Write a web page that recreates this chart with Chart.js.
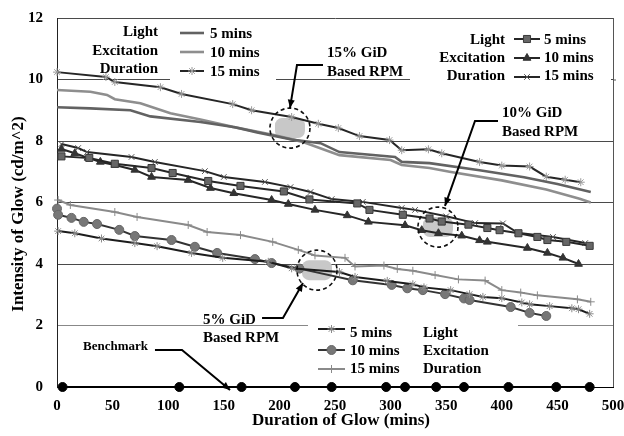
<!DOCTYPE html>
<html>
<head>
<meta charset="utf-8">
<script src="https://cdn.jsdelivr.net/npm/chart.js@4.4.1/dist/chart.umd.min.js"></script>
<style>
html,body{margin:0;padding:0;background:#fff;}
canvas{display:block;}
</style>
</head>
<body>
<canvas id="c" width="624" height="436"></canvas>
<script>
// ---------- DATA ----------
const xTickValues = [0, 50, 100, 150, 200, 250, 300, 350, 400, 450, 500];
const yTickValues = [0, 2, 4, 6, 8, 10, 12];

// 15% GiD based RPM (top group)
const gid15_5min = [[0,9.1],[30,9.06],[66,9.0],[84,8.8],[129,8.62],[160,8.45],[180,8.28],[211,8.05],[237,7.93],[254,7.64],[304,7.48],[310,7.32],[335,7.28],[380,7.05],[420,6.82],[450,6.6],[480,6.34]];
const gid15_10min = [[0,9.66],[30,9.6],[45,9.5],[52,9.36],[75,9.23],[102,8.9],[129,8.7],[158,8.46],[194,8.2],[220,7.98],[254,7.54],[300,7.38],[310,7.22],[335,7.12],[353,7.0],[400,6.72],[440,6.42],[470,6.12],[480,6.0]];
const gid15_15min = [[0,10.24],[44,10.08],[52,9.92],[93,9.75],[112,9.53],[158,9.2],[175,9.0],[211,8.78],[235,8.56],[253,8.42],[272,8.16],[299,8.03],[310,7.7],[334,7.73],[346,7.6],[380,7.32],[400,7.2],[425,7.17],[440,6.84],[457,6.74],[471,6.66]];

// 10% GiD based RPM (middle group)
const gid10_5min = [[4,7.5],[29,7.45],[52,7.26],[85,7.12],[104,6.96],[136,6.7],[165,6.54],[204,6.36],[227,6.1],[270,5.97],[281,5.76],[311,5.6],[335,5.48],[346,5.38],[370,5.28],[387,5.17],[398,5.1],[415,5.0],[432,4.88],[441,4.78],[458,4.72],[479,4.59]];
const gid10_10min = [[4,7.74],[16,7.6],[28,7.45],[39,7.32],[52,7.22],[70,7.06],[85,6.83],[118,6.73],[138,6.47],[159,6.3],[193,6.08],[208,5.95],[232,5.76],[261,5.58],[280,5.37],[313,5.26],[328,5.1],[343,5.0],[364,4.92],[380,4.77],[387,4.72],[423,4.52],[441,4.36],[455,4.2],[469,4.0]];
const gid10_15min = [[4,7.9],[19,7.77],[27,7.64],[67,7.48],[88,7.32],[133,7.02],[150,6.83],[187,6.67],[210,6.5],[228,6.34],[247,6.11],[275,6.02],[310,5.82],[322,5.76],[350,5.55],[376,5.33],[401,5.32],[414,5.02],[446,4.88],[475,4.68]];

// 5% GiD based RPM (bottom group)
const gid5_5min = [[1,5.07],[16,5.0],[40,4.83],[70,4.68],[90,4.58],[121,4.36],[149,4.2],[190,4.07],[211,3.86],[254,3.74],[268,3.58],[297,3.45],[320,3.34],[330,3.24],[354,3.15],[371,3.02],[383,2.93],[400,2.89],[418,2.75],[425,2.69],[443,2.63],[463,2.56],[469,2.53],[479,2.38]];
const gid5_10min = [[0,5.8],[1,5.6],[13,5.5],[24,5.37],[36,5.3],[56,5.11],[70,4.91],[103,4.78],[124,4.56],[144,4.36],[178,4.16],[193,4.03],[218,3.85],[266,3.47],[301,3.32],[315,3.21],[329,3.15],[349,3.02],[366,2.88],[371,2.83],[408,2.6],[425,2.41],[440,2.31]];
const gid5_15min = [[1,6.08],[12,5.92],[52,5.69],[72,5.53],[118,5.27],[135,5.04],[165,4.94],[194,4.72],[217,4.46],[232,4.28],[259,4.2],[268,3.92],[294,3.95],[306,3.84],[320,3.78],[340,3.64],[361,3.5],[385,3.46],[400,3.15],[417,3.07],[432,2.98],[468,2.85],[480,2.77]];

// Benchmark
const benchmark = [[5,0],[110,0],[166,0],[214,0],[247,0],[296,0],[313,0],[341,0],[366,0],[406,0],[449,0],[479,0]];

// Annotation anchors (data units)
const circleCenters = [[209.5,8.42],[342.6,5.2],[233.8,3.8]];
const arrows = [
  [[239.2,10.47],[215.8,10.47],[209.5,9.07]],
  [[396.6,8.65],[375.9,8.65],[348.9,5.89]],
  [[184.4,2.24],[203.2,2.24],[221.2,3.38]],
  [[88.1,1.2],[112.4,1.2],[155.6,-0.1]]
];

// ---------- CHART ----------
const FONT = '"Liberation Serif","Times New Roman",serif';
const pts = a => a.map(p => ({x:p[0], y:p[1]}));

function ds(label, arr, o){
  return Object.assign({
    label, data: pts(arr), borderWidth:2, tension:0, fill:false, clip:false,
    pointRadius:0, pointHoverRadius:0, pointBorderWidth:1
  }, o);
}

const S = {
  g15_5:  {borderColor:'#626262', borderWidth:2.6},
  g15_10: {borderColor:'#8e8e8e', borderWidth:2.6},
  g15_15: {borderColor:'#262626', borderWidth:2, pointStyle:'star', pointRadius:4, pointBorderColor:'#9a9a9a', pointBackgroundColor:'#9a9a9a'},
  g10_5:  {borderColor:'#262626', borderWidth:2, pointStyle:'rect', pointRadius:5, pointBackgroundColor:'#666', pointBorderColor:'#3a3a3a'},
  g10_10: {borderColor:'#262626', borderWidth:2, pointStyle:'triangle', pointRadius:4.5, pointBackgroundColor:'#333', pointBorderColor:'#333'},
  g10_15: {borderColor:'#262626', borderWidth:2, pointStyle:'crossRot', pointRadius:4, pointBorderColor:'#555', pointBackgroundColor:'#555'},
  g5_5:   {borderColor:'#1c1c1c', borderWidth:2, pointStyle:'star', pointRadius:4, pointBorderColor:'#8a8a8a', pointBackgroundColor:'#8a8a8a'},
  g5_10:  {borderColor:'#333', borderWidth:2, pointStyle:'circle', pointRadius:4.5, pointBackgroundColor:'#777', pointBorderColor:'#666'},
  g5_15:  {borderColor:'#8a8a8a', borderWidth:2, pointStyle:'cross', pointRadius:4, pointBorderColor:'#8a8a8a', pointBackgroundColor:'#8a8a8a'},
  bench:  {borderColor:'#000', borderWidth:2, pointStyle:'circle', pointRadius:4.5, pointBackgroundColor:'#000', pointBorderColor:'#000'}
};

function drawArrowHead(ctx, from, to, size){
  const ang = Math.atan2(to[1]-from[1], to[0]-from[0]);
  ctx.beginPath();
  ctx.moveTo(to[0], to[1]);
  ctx.lineTo(to[0]-size*Math.cos(ang-0.4), to[1]-size*Math.sin(ang-0.4));
  ctx.lineTo(to[0]-size*Math.cos(ang+0.4), to[1]-size*Math.sin(ang+0.4));
  ctx.closePath();
  ctx.fill();
}

function marker(ctx, style, x, y, r, fill, stroke){
  ctx.save();
  ctx.fillStyle = fill; ctx.strokeStyle = stroke; ctx.lineWidth = 1;
  Chart.helpers.drawPoint(ctx, {pointStyle:style, radius:r, rotation:0, borderWidth:1}, x, y);
  ctx.restore();
}

function legendLine(ctx, x1, x2, y, st){
  ctx.save();
  ctx.strokeStyle = st.borderColor; ctx.lineWidth = st.borderWidth;
  ctx.beginPath(); ctx.moveTo(x1,y); ctx.lineTo(x2,y); ctx.stroke();
  ctx.restore();
  if (st.pointStyle && st.pointRadius) marker(ctx, st.pointStyle, (x1+x2)/2, y, st.pointRadius, st.pointBackgroundColor, st.pointBorderColor);
}

function text(ctx, s, x, y, align, size){
  ctx.font = 'bold ' + (size||15) + 'px ' + FONT;
  ctx.fillStyle = '#000';
  ctx.textAlign = align || 'left';
  ctx.textBaseline = 'middle';
  ctx.fillText(s, x, y);
}

const deco = {
  id:'deco',
  beforeDatasetsDraw(chart){
    const {ctx, scales:{x, y}} = chart;
    ctx.save();
    ctx.fillStyle = '#fff';
    const y10 = y.getPixelForValue(10), y2 = y.getPixelForValue(2);
    ctx.fillRect(170, y10-3, 106, 6);
    ctx.fillRect(410, y10-3, 201, 6);
    ctx.fillRect(308, y2-3, 210, 6);
    ctx.fillStyle = '#c8c8c8';
    circleCenters.forEach(c => {
      const cx = x.getPixelForValue(c[0]), cy = y.getPixelForValue(c[1]);
      ctx.beginPath();
      ctx.roundRect(cx-15, cy-10, 30, 20, 7);
      ctx.fill();
    });
    ctx.restore();
  },
  afterDatasetsDraw(chart){
    const {ctx, chartArea:ca, scales:{x, y}} = chart;
    ctx.save();
    ctx.strokeStyle = '#555'; ctx.lineWidth = 1;
    ctx.beginPath(); ctx.moveTo(ca.right+0.5, ca.top); ctx.lineTo(ca.right+0.5, ca.bottom); ctx.stroke();
    ctx.beginPath(); ctx.moveTo(ca.right, y.getPixelForValue(10)+0.5); ctx.lineTo(ca.right+3, y.getPixelForValue(10)+0.5); ctx.stroke();

    ctx.strokeStyle = '#111'; ctx.lineWidth = 1.6; ctx.setLineDash([4,3]);
    circleCenters.forEach(c => {
      const cx = x.getPixelForValue(c[0]), cy = y.getPixelForValue(c[1]);
      ctx.beginPath(); ctx.arc(cx, cy, 20, 0, Math.PI*2); ctx.stroke();
    });
    ctx.setLineDash([]);

    ctx.strokeStyle = '#000'; ctx.fillStyle = '#000'; ctx.lineWidth = 2;
    arrows.forEach(a => {
      const p = a.map(q => [x.getPixelForValue(q[0]), y.getPixelForValue(q[1])]);
      ctx.beginPath(); ctx.moveTo(p[0][0], p[0][1]);
      for (let i=1;i<p.length;i++) ctx.lineTo(p[i][0], p[i][1]);
      ctx.stroke();
      drawArrowHead(ctx, p[p.length-2], p[p.length-1], 9);
    });

    text(ctx, '15% GiD', 327, 53);
    text(ctx, 'Based RPM', 327, 72);
    text(ctx, '10% GiD', 502, 113);
    text(ctx, 'Based RPM', 502, 132);
    text(ctx, '5% GiD', 203, 320);
    text(ctx, 'Based RPM', 203, 338);
    text(ctx, 'Benchmark', 83, 347, 'left', 13);

    text(ctx, 'Light', 158, 32, 'right');
    text(ctx, 'Excitation', 158, 51, 'right');
    text(ctx, 'Duration', 158, 69, 'right');
    legendLine(ctx, 180, 204, 33, S.g15_5);
    legendLine(ctx, 180, 204, 52, S.g15_10);
    legendLine(ctx, 180, 204, 71, S.g15_15);
    text(ctx, '5 mins', 210, 34);
    text(ctx, '10 mins', 210, 53);
    text(ctx, '15 mins', 210, 72);

    text(ctx, 'Light', 505, 40, 'right');
    text(ctx, 'Excitation', 505, 58, 'right');
    text(ctx, 'Duration', 505, 76, 'right');
    legendLine(ctx, 514, 540, 39, S.g10_5);
    legendLine(ctx, 514, 540, 58, S.g10_10);
    legendLine(ctx, 514, 540, 77, S.g10_15);
    text(ctx, '5 mins', 544, 40);
    text(ctx, '10 mins', 544, 58);
    text(ctx, '15 mins', 544, 76);

    legendLine(ctx, 318, 345, 329, S.g5_5);
    legendLine(ctx, 318, 345, 350, S.g5_10);
    legendLine(ctx, 318, 345, 369, S.g5_15);
    text(ctx, '5 mins', 350, 333);
    text(ctx, '10 mins', 350, 351);
    text(ctx, '15 mins', 350, 369);
    text(ctx, 'Light', 423, 333);
    text(ctx, 'Excitation', 423, 351);
    text(ctx, 'Duration', 423, 369);

    text(ctx, 'Duration of Glow (mins)', 341, 421, 'center', 17);
    ctx.save();
    ctx.translate(19, 214);
    ctx.rotate(-Math.PI/2);
    text(ctx, 'Intensity of Glow (cd/m^2)', 0, 0, 'center', 17);
    ctx.restore();
    ctx.restore();
  }
};

new Chart(document.getElementById('c'), {
  type:'line',
  data:{datasets:[
    ds('15% 5 mins', gid15_5min, S.g15_5),
    ds('15% 10 mins', gid15_10min, S.g15_10),
    ds('15% 15 mins', gid15_15min, S.g15_15),
    ds('10% 5 mins', gid10_5min, S.g10_5),
    ds('10% 10 mins', gid10_10min, S.g10_10),
    ds('10% 15 mins', gid10_15min, S.g10_15),
    ds('5% 5 mins', gid5_5min, S.g5_5),
    ds('5% 10 mins', gid5_10min, S.g5_10),
    ds('5% 15 mins', gid5_15min, S.g5_15),
    ds('Benchmark', benchmark, S.bench)
  ]},
  options:{
    responsive:false, animation:false, events:[],
    layout:{padding:{top:18, right:11, left:0, bottom:0}},
    plugins:{legend:{display:false}, tooltip:{enabled:false}},
    scales:{
      x:{
        type:'linear', min:0, max:500,
        afterBuildTicks(s){ s.ticks = xTickValues.map(v => ({value:v})); },
        ticks:{font:{family:FONT, size:15, weight:'bold'}, color:'#000', padding:10, maxRotation:0},
        grid:{display:false, drawTicks:false},
        border:{display:true, color:'#000', width:1},
        afterFit(s){ s.height = 49; s.paddingRight = 0; s.paddingLeft = 0; }
      },
      y:{
        min:0, max:12,
        afterBuildTicks(s){ s.ticks = yTickValues.map(v => ({value:v})); },
        ticks:{font:{family:FONT, size:15, weight:'bold'}, color:'#000', padding:14},
        grid:{drawTicks:false, lineWidth:1, color:c => (c.tick && c.tick.value === 2) ? '#888' : '#4a4a4a'},
        border:{display:true, color:'#222', width:1},
        afterFit(s){ s.width = 57; s.paddingTop = 0; s.paddingBottom = 0; }
      }
    }
  },
  plugins:[deco]
});
</script>
</body>
</html>
